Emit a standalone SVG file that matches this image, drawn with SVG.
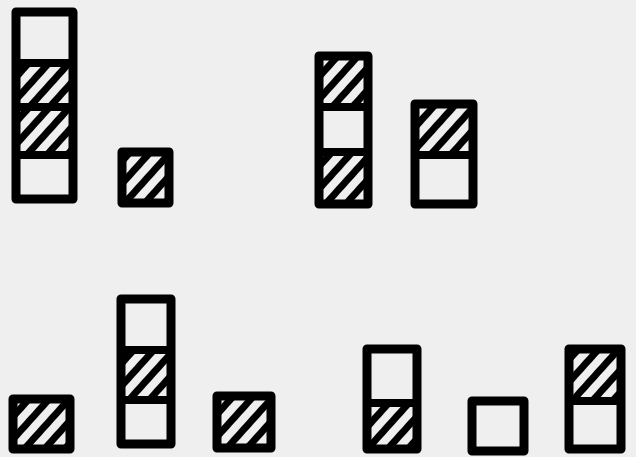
<svg xmlns="http://www.w3.org/2000/svg" width="636" height="457" viewBox="0 0 636 457">
  <defs>
    <pattern id="hatch" patternUnits="userSpaceOnUse" width="15" height="15" patternTransform="rotate(42)">
      <rect x="0" y="0" width="7" height="15" fill="#000"/>
    </pattern>
    <style>
      .box { fill: none; stroke: #000; stroke-width: 9; stroke-linejoin: round; stroke-linecap: round; }
      .div { stroke: #000; stroke-width: 8; stroke-linecap: butt; }
      .h { fill: url(#hatch); }
    </style>
  </defs>
  <rect x="0" y="0" width="636" height="457" fill="#efefef"/>
  <g id="stack1">
    <rect class="h" x="16" y="63" width="57" height="92"/>
    <rect class="box" x="16" y="12" width="57" height="187"/>
    <line class="div" x1="16" y1="63" x2="73" y2="63"/>
    <line class="div" x1="16" y1="107" x2="73" y2="107"/>
    <line class="div" x1="16" y1="155" x2="73" y2="155"/>
  </g>
  <g id="stack2">
    <rect class="h" x="122" y="152" width="47" height="51"/>
    <rect class="box" x="122" y="152" width="47" height="51"/>
  </g>
  <g id="stack3">
    <rect class="h" x="319" y="56" width="49" height="51"/>
    <rect class="h" x="319" y="152" width="49" height="52"/>
    <rect class="box" x="319" y="56" width="49" height="148"/>
    <line class="div" x1="319" y1="107" x2="368" y2="107"/>
    <line class="div" x1="319" y1="152" x2="368" y2="152"/>
  </g>
  <g id="stack4">
    <rect class="h" x="415" y="104" width="58" height="51"/>
    <rect class="box" x="415" y="104" width="58" height="100"/>
    <line class="div" x1="415" y1="155" x2="473" y2="155"/>
  </g>
  <g id="stack5">
    <rect class="h" x="13" y="399" width="57" height="50"/>
    <rect class="box" x="13" y="399" width="57" height="50"/>
  </g>
  <g id="stack6">
    <rect class="h" x="121" y="350" width="50" height="50"/>
    <rect class="box" x="121" y="299" width="50" height="145"/>
    <line class="div" x1="121" y1="350" x2="171" y2="350"/>
    <line class="div" x1="121" y1="400" x2="171" y2="400"/>
  </g>
  <g id="stack7">
    <rect class="h" x="217" y="396" width="54" height="52"/>
    <rect class="box" x="217" y="396" width="54" height="52"/>
  </g>
  <g id="stack8">
    <rect class="h" x="367" y="403" width="50" height="46"/>
    <rect class="box" x="367" y="349" width="50" height="100"/>
    <line class="div" x1="367" y1="403" x2="417" y2="403"/>
  </g>
  <g id="stack9">
    <rect class="box" x="472" y="401" width="52" height="50"/>
  </g>
  <g id="stack10">
    <rect class="h" x="569" y="349" width="52" height="52"/>
    <rect class="box" x="569" y="349" width="52" height="100"/>
    <line class="div" x1="569" y1="401" x2="621" y2="401"/>
  </g>
  <g id="connectors"/>
</svg>
